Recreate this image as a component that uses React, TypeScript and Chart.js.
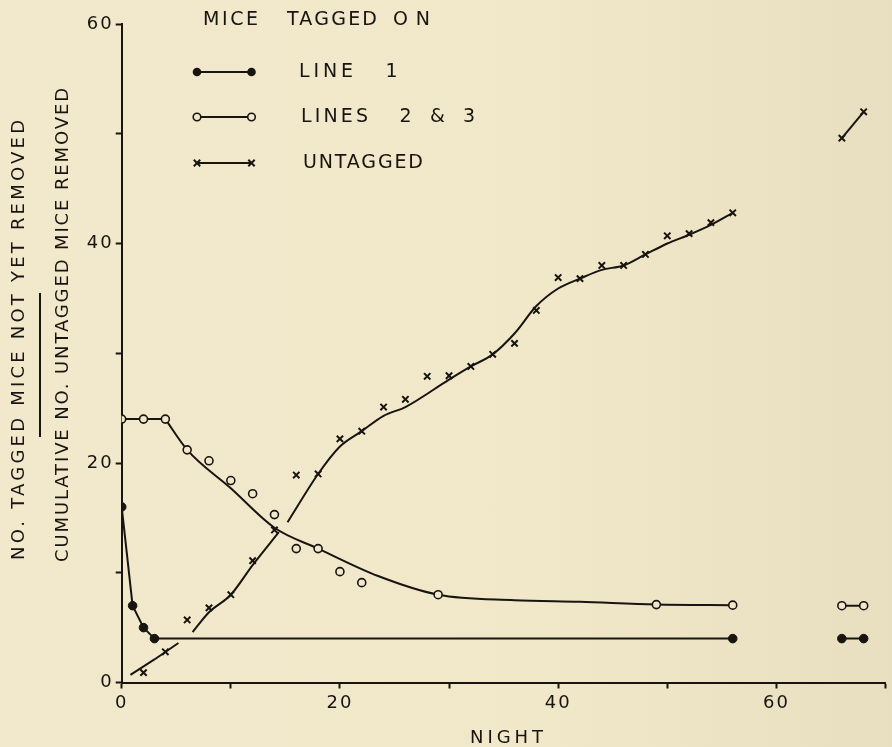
import React, { useEffect, useRef } from 'react';
import { Chart, registerables } from 'chart.js';

Chart.register(...registerables);

const FONT = '"DejaVu Sans", "Liberation Sans", sans-serif';
const INK = '#18140f';
const PAPER = '#f1e8cb';

// ---------- tick labels ----------
const xTickLabels = ['0', '20', '40', '60'];
const yTickLabels = ['0', '20', '40', '60'];

// ---------- Mice tagged on Line 1 (filled circles) ----------
const line1Nights = [0, 1, 2, 3, 56];
const line1Values = [16, 7, 5, 4, 4];
const line1LateNights = [66, 68];
const line1LateValues = [4, 4];

// ---------- Mice tagged on Lines 2 & 3 (open circles) ----------
const lines23Nights = [0, 2, 4, 6, 8, 10, 12, 14, 16, 18, 20, 22, 29, 49, 56, 66, 68];
const lines23Values = [24, 24, 24, 21.2, 20.2, 18.4, 17.2, 15.3, 12.2, 12.2, 10.1, 9.1, 8.0, 7.1, 7.05, 7, 7];
// fitted line
const lines23FlatNights = [0, 4];
const lines23FlatValues = [24, 24];
const lines23CurveNights = [4, 6, 10, 14, 18, 23.5, 29, 36, 42, 49, 56];
const lines23CurveValues = [24, 21.2, 17.7, 14.1, 12.2, 9.7, 8.0, 7.5, 7.35, 7.1, 7.05];
const lines23LateNights = [66, 68];
const lines23LateValues = [7, 7];

// ---------- Untagged (x marks) ----------
const untaggedNights = [2, 4, 6, 8, 10, 12, 14, 16, 18, 20, 22, 24, 26, 28, 30, 32, 34, 36, 38, 40, 42, 44, 46, 48, 50, 52, 54, 56, 66, 68];
const untaggedValues = [0.9, 2.8, 5.7, 6.8, 8.0, 11.1, 13.9, 18.9, 19.0, 22.2, 22.9, 25.1, 25.8, 27.9, 27.95, 28.8, 29.9, 30.9, 33.9, 36.9, 36.8, 38.0, 38.0, 39.0, 40.7, 40.9, 41.9, 42.8, 49.6, 52];
// fitted line, in pieces
const untaggedFitANights = [0.8, 3, 5.2];
const untaggedFitAValues = [0.7, 2.1, 3.6];
const untaggedFitBNights = [6.5, 8, 10, 12, 14.4];
const untaggedFitBValues = [4.6, 6.4, 8.0, 10.7, 13.7];
const untaggedFitCNights = [15.2, 18, 20, 22, 24, 26, 30, 32, 34, 36, 38, 40, 42, 44, 46, 48, 50, 52, 54, 56];
const untaggedFitCValues = [14.6, 19.0, 21.5, 22.9, 24.3, 25.1, 27.6, 28.8, 29.9, 31.8, 34.3, 35.9, 36.8, 37.6, 38.0, 39.0, 40.0, 40.8, 41.7, 42.8];
const untaggedFitDNights = [66, 68];
const untaggedFitDValues = [49.6, 52];

// ---------- text ----------
const legendTitle = ['MICE', 'TAGGED', 'ON'];
const legendLabels = [['LINE', '1'], ['LINES', '2', '&', '3'], ['UNTAGGED']];
const yTitleTop = 'NO. TAGGED MICE NOT YET REMOVED';
const yTitleBottom = 'CUMULATIVE NO. UNTAGGED MICE REMOVED';
const xTitle = 'NIGHT';

const pts = (xs: number[], ys: number[]) => xs.map((x, i) => ({ x, y: ys[i] }));

function fitText(ctx: CanvasRenderingContext2D, text: string, left: number, right: number, y: number) {
  (ctx as any).letterSpacing = '0px';
  const w = ctx.measureText(text).width;
  const n = text.length;
  ctx.textAlign = 'left';
  if (n <= 1) {
    ctx.fillText(text, (left + right - w) / 2, y);
    return;
  }
  const sp = (right - left - w) / (n - 1);
  (ctx as any).letterSpacing = sp + 'px';
  ctx.fillText(text, left, y);
  (ctx as any).letterSpacing = '0px';
}

const paperText = {
  id: 'paperText',
  beforeDraw(chart: any) {
    chart.ctx.letterSpacing = '2px';
  },
  afterDraw(chart: any) {
    const ctx: CanvasRenderingContext2D = chart.ctx;
    ctx.save();
    ctx.fillStyle = INK;
    ctx.strokeStyle = INK;
    ctx.textBaseline = 'middle';
    ctx.font = `19px ${FONT}`;

    // legend title
    const titlePos = [[203, 258], [287, 377], [393, 430]];
    legendTitle.forEach((w, i) => fitText(ctx, w, titlePos[i][0], titlePos[i][1], 20));

    // legend rows
    const rowY = [72, 117, 163];
    const rowPos = [
      [[299, 353], [387, 396]],
      [[301, 368], [400, 411], [431, 444], [463, 475]],
      [[303, 423]],
    ];
    legendLabels.forEach((words, r) => words.forEach((w, i) => fitText(ctx, w, rowPos[r][i][0], rowPos[r][i][1], rowY[r])));

    // legend samples
    const x0 = 197, x1 = 251.5;
    ctx.lineWidth = 2;
    rowY.forEach((y) => {
      ctx.beginPath();
      ctx.moveTo(x0, y);
      ctx.lineTo(x1, y);
      ctx.stroke();
    });
    [x0, x1].forEach((x) => {
      ctx.beginPath();
      ctx.arc(x, rowY[0], 4.3, 0, Math.PI * 2);
      ctx.fill();
    });
    ctx.lineWidth = 1.6;
    [x0, x1].forEach((x) => {
      ctx.beginPath();
      ctx.arc(x, rowY[1], 3.8, 0, Math.PI * 2);
      ctx.fillStyle = PAPER;
      ctx.fill();
      ctx.stroke();
    });
    ctx.fillStyle = INK;
    ctx.lineWidth = 2;
    [x0, x1].forEach((x) => {
      const d = 3.2;
      ctx.beginPath();
      ctx.moveTo(x - d, rowY[2] - d);
      ctx.lineTo(x + d, rowY[2] + d);
      ctx.moveTo(x - d, rowY[2] + d);
      ctx.lineTo(x + d, rowY[2] - d);
      ctx.stroke();
    });

    // y-axis title (two lines with fraction bar)
    ctx.font = `18px ${FONT}`;
    ctx.save();
    ctx.translate(19, 560);
    ctx.rotate(-Math.PI / 2);
    fitText(ctx, yTitleTop, 0, 560 - 120, 0);
    ctx.restore();
    ctx.save();
    ctx.translate(63, 562);
    ctx.rotate(-Math.PI / 2);
    fitText(ctx, yTitleBottom, 0, 562 - 88, 0);
    ctx.restore();
    ctx.lineWidth = 2;
    ctx.beginPath();
    ctx.moveTo(40, 293);
    ctx.lineTo(40, 437);
    ctx.stroke();

    // x-axis title
    fitText(ctx, xTitle, 470, 543, 738);
    ctx.restore();
  },
};

export default function App() {
  const ref = useRef<HTMLCanvasElement | null>(null);

  useEffect(() => {
    if (!ref.current) return;
    const curve = (xs: number[], ys: number[], smooth: boolean) => ({
      data: pts(xs, ys),
      showLine: true,
      borderColor: INK,
      borderWidth: 2,
      pointRadius: 0,
      pointHoverRadius: 0,
      fill: false,
      tension: smooth ? 0.4 : 0,
      cubicInterpolationMode: smooth ? 'monotone' : 'default',
      order: 3,
    });
    const line1Style = {
      showLine: true,
      borderColor: INK,
      borderWidth: 2,
      backgroundColor: INK,
      pointStyle: 'circle',
      pointRadius: 4.3,
      pointBorderWidth: 1,
      pointHoverRadius: 4.3,
      tension: 0,
      order: 1,
    };
    const chart = new Chart(ref.current, {
      type: 'scatter',
      data: {
        datasets: [
          { label: 'Line 1', data: pts(line1Nights, line1Values), ...line1Style } as any,
          { label: 'Line 1 (late)', data: pts(line1LateNights, line1LateValues), ...line1Style } as any,
          {
            label: 'Lines 2 & 3',
            data: pts(lines23Nights, lines23Values),
            showLine: false,
            pointStyle: 'circle',
            pointRadius: 4,
            pointHoverRadius: 4,
            backgroundColor: PAPER,
            borderColor: INK,
            pointBorderWidth: 1.6,
            order: 1,
          } as any,
          curve(lines23FlatNights, lines23FlatValues, false) as any,
          curve(lines23CurveNights, lines23CurveValues, true) as any,
          curve(lines23LateNights, lines23LateValues, false) as any,
          {
            label: 'Untagged',
            data: pts(untaggedNights, untaggedValues),
            showLine: false,
            pointStyle: 'crossRot',
            pointRadius: 4.5,
            pointHoverRadius: 4.5,
            borderColor: INK,
            pointBorderWidth: 2,
            order: 1,
          } as any,
          curve(untaggedFitANights, untaggedFitAValues, false) as any,
          curve(untaggedFitBNights, untaggedFitBValues, true) as any,
          curve(untaggedFitCNights, untaggedFitCValues, true) as any,
          curve(untaggedFitDNights, untaggedFitDValues, false) as any,
        ],
      },
      options: {
        animation: false,
        responsive: false,
        maintainAspectRatio: false,
        layout: { padding: { top: 24, right: 0, left: 0, bottom: 0 } },
        plugins: { legend: { display: false }, tooltip: { enabled: false } },
        scales: {
          x: {
            type: 'linear',
            min: 0,
            max: 70,
            afterFit(s: any) {
              s.height = 64.5;
            },
            ticks: {
              stepSize: 10,
              autoSkip: false,
              maxRotation: 0,
              padding: 4,
              color: INK,
              font: { family: FONT, size: 18 },
              callback: (v: any) => (xTickLabels.includes(String(v)) ? String(v) : ''),
            },
            grid: { drawOnChartArea: false, drawTicks: true, tickLength: 6, tickWidth: 2, tickColor: INK },
            border: { display: true, color: INK, width: 2 },
          },
          y: {
            type: 'linear',
            min: 0,
            max: 60,
            afterFit(s: any) {
              s.width = 121.7;
            },
            ticks: {
              stepSize: 10,
              autoSkip: false,
              padding: 2,
              color: INK,
              font: { family: FONT, size: 18 },
              callback: (v: any) => (yTickLabels.includes(String(v)) ? String(v) : ''),
            },
            grid: { drawOnChartArea: false, drawTicks: true, tickLength: 6, tickWidth: 2, tickColor: INK },
            border: { display: true, color: INK, width: 2 },
          },
        },
      } as any,
      plugins: [paperText as any],
    });
    return () => chart.destroy();
  }, []);

  return (
    <div
      style={{
        position: 'fixed',
        left: 0,
        top: 0,
        width: 892,
        height: 747,
        background: 'linear-gradient(90deg, #f2e9cd 0%, #f1e8ca 60%, #e8dec0 100%)',
      }}
    >
      <canvas ref={ref} width={892} height={747} style={{ display: 'block' }} />
    </div>
  );
}
